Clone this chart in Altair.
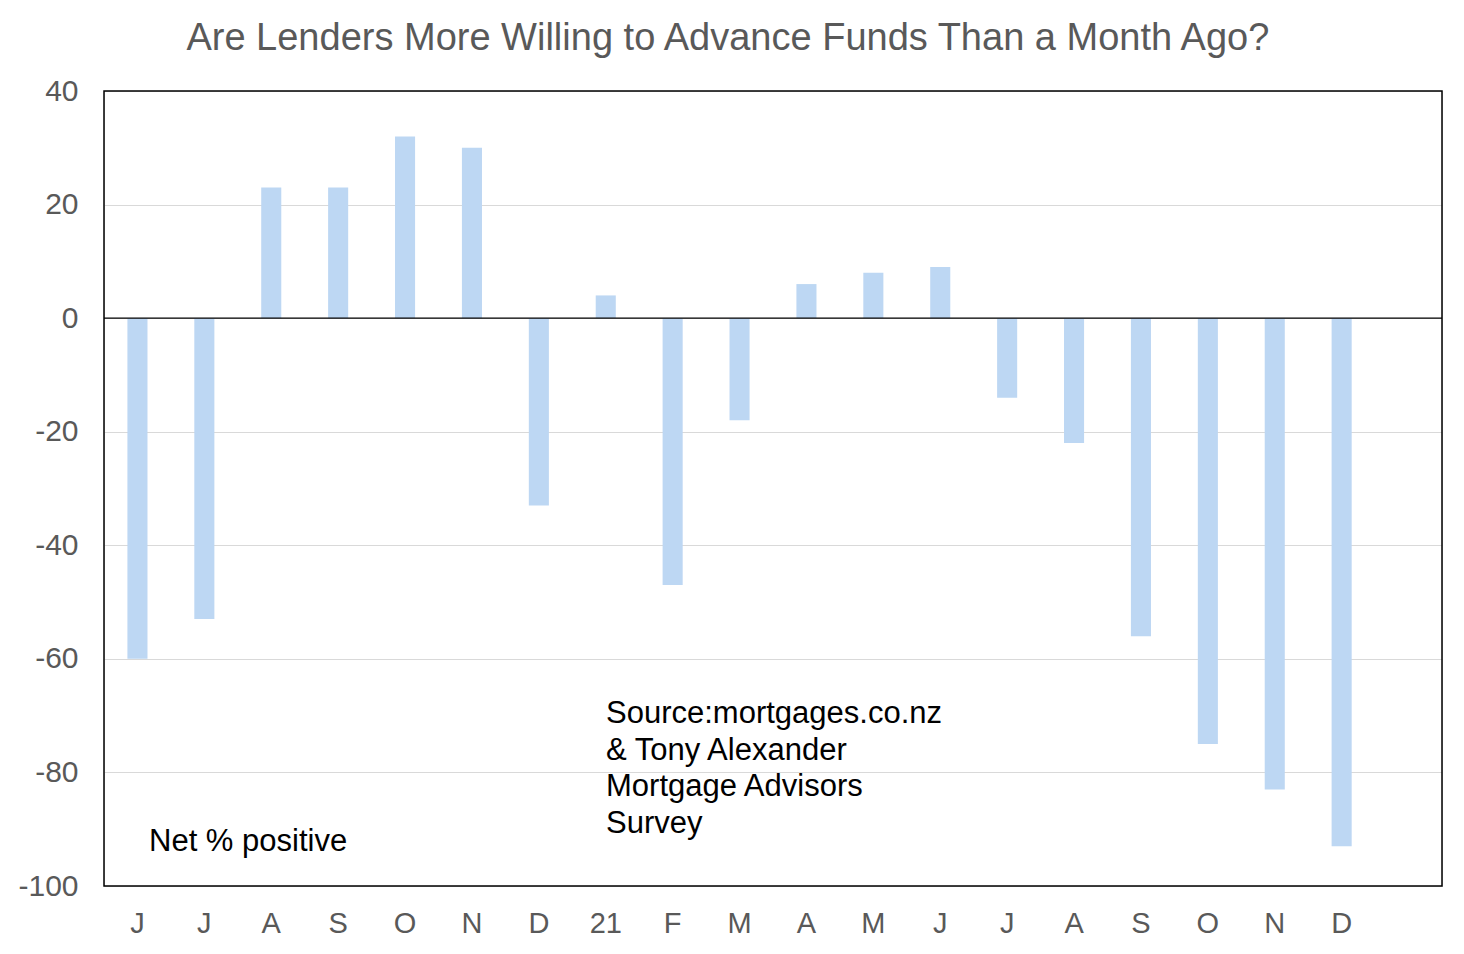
import altair as alt
import pandas as pd

labels = ["J", "J", "A", "S", "O", "N", "D", "21", "F", "M", "A", "M", "J",
          "J", "A", "S", "O", "N", "D", ""]
values = [-60, -53, 23, 23, 32, 30, -33, 4, -47, -18, 6, 8, 9,
          -14, -22, -56, -75, -83, -93]
source_lines = ["Source:mortgages.co.nz", "& Tony Alexander",
                "Mortgage Advisors", "Survey"]
title = "Are Lenders More Willing to Advance Funds Than a Month Ago?"
note = "Net % positive"

df = pd.DataFrame({"i": list(range(len(values))), "v": values})
idx_domain = list(range(len(labels)))
label_js = "[" + ",".join("'" + l + "'" for l in labels) + "]"

FONT = "Liberation Sans"
W, H = 1338, 795
yscale = alt.Scale(domain=[-100, 40], nice=False)

x = alt.X("i:O", scale=alt.Scale(domain=idx_domain, paddingInner=0.7, paddingOuter=0.35),
          axis=alt.Axis(title=None, labelExpr=label_js + "[datum.value]", labelAngle=0,
                        ticks=False, domain=False, labelFontSize=29, labelColor="#595959",
                        labelFont=FONT, labelPadding=23))
y = alt.Y("v:Q", scale=yscale,
          axis=alt.Axis(title=None, values=[-100, -80, -60, -40, -20, 0, 20, 40],
                        labelExpr="datum.value + ''",
                        ticks=False, domain=False, labelFontSize=30, labelColor="#595959",
                        labelFont=FONT, labelPadding=26, minExtent=91, maxExtent=91,
                        grid=True, gridColor="#d9d9d9", gridWidth=1))

bars = alt.Chart(df).mark_bar(color="#BDD7F3").encode(x=x, y=y)

zero = alt.Chart(pd.DataFrame({"v": [0]})).mark_rule(color="black", strokeWidth=1.3).encode(
    y=alt.Y("v:Q", scale=yscale))

note_t = alt.Chart(pd.DataFrame({"t": [note]})).mark_text(
    font=FONT, fontSize=31, color="black", align="left", baseline="alphabetic").encode(
    text="t:N", x=alt.value(45), y=alt.value(760))

src = alt.Chart(pd.DataFrame({"k": [0]})).mark_text(
    text=source_lines, lineHeight=36.5,
    font=FONT, fontSize=31, color="black", align="left", baseline="alphabetic").encode(
    x=alt.value(502), y=alt.value(632))

border = alt.Chart(pd.DataFrame({"k": [0]})).mark_rect(
    fill=None, fillOpacity=0, stroke="black", strokeWidth=1.5).encode(
    x=alt.value(0), x2=alt.value(W), y=alt.value(0), y2=alt.value(H))

chart = alt.layer(bars, zero, src, note_t, border).properties(
    width=W, height=H,
    padding={"top": 12, "left": 5, "right": 5, "bottom": 5},
    title=alt.TitleParams(title, font=FONT, fontSize=38, color="#595959", fontWeight="normal",
                          anchor="middle", frame="bounds", offset=18),
).configure_view(stroke=None).configure(background="white")

chart.save("out.html", embed_options={"renderer": "svg", "actions": False})
